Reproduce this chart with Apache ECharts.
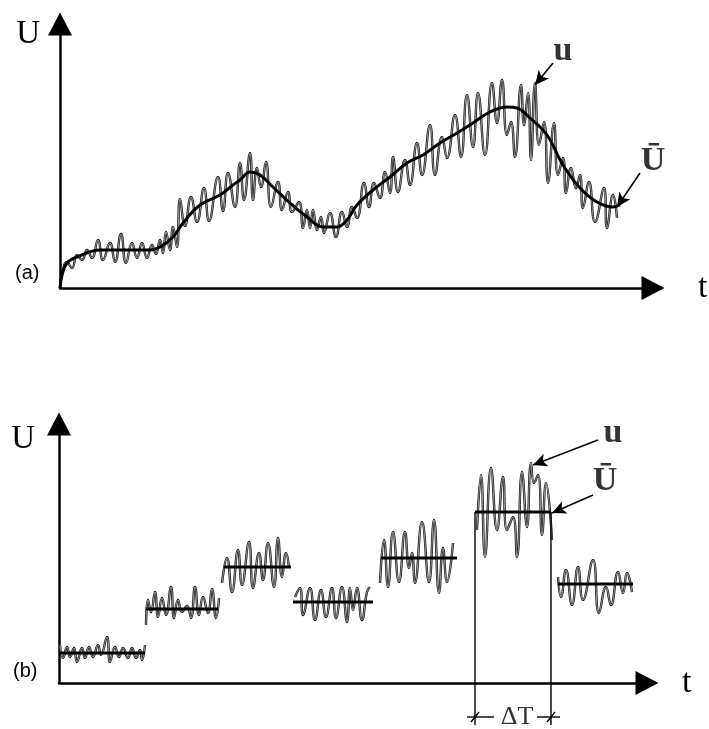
<!DOCTYPE html>
<html>
<head>
<meta charset="utf-8">
<script src="https://cdn.jsdelivr.net/npm/echarts@6/dist/echarts.min.js"></script>
<style>
  html, body { margin: 0; padding: 0; background: #fff; }
  #chart { width: 709px; height: 729px; }
</style>
</head>
<body>
<div id="chart"></div>
<script>
// (a) running mean U and instantaneous u, [t, U]
const meanA = [[0, 0], [2, 13], [7, 25], [17, 31], [40, 38], [90, 38], [100, 41], [113, 51], [123, 65],
  [140, 83], [160, 93], [173, 103], [180, 108], [190, 116], [200, 113], [213, 101], [230, 85], [247, 71],
  [263, 61], [277, 61], [287, 68], [297, 83], [313, 98], [330, 111], [347, 125], [363, 133], [380, 145],
  [397, 155], [413, 165], [430, 176], [447, 181], [457, 180], [470, 170], [487, 153], [503, 123],
  [520, 100], [537, 86], [553, 81], [560, 83]]

const uA = [[0, 0], [2, 13], [7, 26], [12, 20], [17, 33], [22, 28], [27, 38], [32, 30], [38, 48], [43, 28],
  [50, 45], [55, 26], [61, 54], [66, 25], [72, 45], [77, 30], [82, 45], [87, 30], [92, 43], [96, 34],
  [100, 48], [103, 35], [106, 56], [110, 38], [113, 61], [117, 41], [120, 89], [125, 62], [131, 91],
  [137, 66], [144, 100], [149, 67], [158, 111], [163, 77], [168, 115], [175, 81], [180, 125], [184, 88],
  [190, 135], [193, 88], [197, 120], [201, 101], [206, 126], [211, 81], [218, 106], [222, 78], [228, 96],
  [232, 76], [239, 86], [243, 60], [247, 78], [250, 60], [253, 78], [257, 58], [261, 71], [264, 55],
  [270, 75], [276, 51], [282, 76], [287, 61], [292, 81], [297, 70], [304, 105], [309, 81], [314, 105],
  [320, 90], [325, 116], [330, 95], [333, 131], [338, 96], [345, 128], [350, 103], [357, 145], [362, 113],
  [370, 163], [375, 113], [382, 151], [387, 130], [395, 173], [401, 131], [407, 193], [413, 141],
  [418, 195], [425, 133], [432, 205], [437, 165], [442, 208], [447, 153], [451, 166], [455, 131],
  [461, 203], [464, 163], [468, 195], [471, 128], [475, 205], [479, 143], [484, 166], [488, 105],
  [494, 165], [498, 113], [503, 130], [506, 95], [511, 120], [516, 100], [520, 113], [523, 80],
  [529, 106], [535, 66], [544, 100], [547, 60], [553, 93], [557, 70]]

// (b) block averages: [start t, end t, level]
const blocksB = [[0, 86, 30], [87, 159, 74], [165, 232, 116], [234, 314, 81], [322, 398, 125],
  [416, 492, 171], [499, 574, 99]]

// (b) u inside each block
const uB = [
  [[1, 38], [4, 25], [8, 36], [11, 26], [15, 35], [18, 21], [23, 35], [26, 25], [30, 36], [34, 26], [39, 38],
    [42, 28], [48, 46], [51, 21], [56, 36], [60, 26], [64, 35], [69, 25], [73, 35], [77, 25], [81, 33],
    [83, 23], [86, 38]],
  [[87, 58], [89, 83], [92, 71], [96, 91], [99, 66], [103, 85], [107, 68], [112, 96], [115, 65], [119, 83],
    [123, 71], [128, 77], [132, 65], [136, 96], [140, 68], [144, 86], [149, 70], [153, 94], [157, 65],
    [160, 85]],
  [[163, 100], [168, 125], [173, 91], [179, 133], [183, 98], [190, 141], [194, 95], [200, 130], [204, 103],
    [209, 140], [215, 96], [219, 145], [223, 106], [227, 130], [230, 116]],
  [[236, 86], [241, 95], [244, 68], [251, 95], [256, 63], [262, 93], [267, 66], [273, 95], [277, 65],
    [283, 96], [288, 61], [291, 95], [294, 73], [298, 95], [303, 63], [308, 91], [311, 96]],
  [[321, 100], [325, 143], [329, 96], [334, 151], [340, 101], [346, 151], [350, 115], [353, 130],
    [356, 100], [363, 161], [370, 101], [375, 163], [380, 90], [384, 135], [388, 101], [394, 140]],
  [[418, 153], [422, 208], [426, 126], [432, 215], [438, 153], [444, 206], [448, 153], [454, 166],
    [458, 126], [463, 211], [468, 156], [472, 220], [475, 200], [479, 208], [483, 148], [487, 200],
    [493, 143]],
  [[499, 106], [502, 86], [507, 113], [513, 78], [519, 116], [524, 83], [534, 123], [540, 70], [547, 96],
    [552, 78], [559, 111], [564, 90], [568, 110], [573, 91]]
]

// the averaging window ΔT (block 6) and where its dimension line sits
const deltaT = [416, 492]
const dimLevel = -34

const serif = 'Liberation Serif, Times New Roman, serif'
const myChart = echarts.init(document.getElementById('chart'))

function axisPair(idx, xmax, ymax) {
  const line = {
    show: true,
    symbol: ['none', 'triangle'],
    symbolSize: [24, 23],
    lineStyle: { color: '#000', width: 2.5 }
  }
  return {
    x: {
      type: 'value', gridIndex: idx, min: 0, max: xmax,
      axisLine: line, axisTick: { show: false }, axisLabel: { show: false }, splitLine: { show: false },
      name: 't', nameLocation: 'end', nameGap: idx === 0 ? 45 : 35,
      nameTextStyle: { fontFamily: serif, fontSize: 34, color: '#000', verticalAlign: 'middle', padding: [idx === 0 ? 0 : 12, 0, 0, 0] }
    },
    y: {
      type: 'value', gridIndex: idx, min: 0, max: ymax,
      axisLine: line, axisTick: { show: false }, axisLabel: { show: false }, splitLine: { show: false },
      name: 'U', nameLocation: 'end', nameGap: idx === 0 ? -10 : -15,
      nameTextStyle: { fontFamily: serif, fontSize: 33, color: '#000', align: 'right', verticalAlign: 'middle', padding: [0, idx === 0 ? 20 : 24, 0, 0] }
    }
  }
}

const axA = axisPair(0, 593, 264)
const axB = axisPair(1, 588, 259)

// u is drawn as a hollow trace: dark outline with a pale core
function uSeries(data, idx) {
  return [
    { type: 'line', xAxisIndex: idx, yAxisIndex: idx, data: data, smooth: 0.5, showSymbol: false, symbol: 'none',
      lineStyle: { color: '#1a1a1a', width: 2.4 }, silent: true, z: 2 },
    { type: 'line', xAxisIndex: idx, yAxisIndex: idx, data: data, smooth: 0.5, showSymbol: false, symbol: 'none',
      lineStyle: { color: '#b4b4b4', width: 0.8 }, silent: true, z: 3 }
  ]
}

function arrow(from, to) {
  return [{ coord: from }, { coord: to }]
}

const arrowStyle = {
  silent: true, symbol: ['none', 'arrow'], symbolSize: [10, 14],
  lineStyle: { color: '#000', width: 1.6, type: 'solid' }, label: { show: false }, emphasis: { disabled: true }
}

function textSeries(idx, items, size) {
  return {
    type: 'scatter', xAxisIndex: idx, yAxisIndex: idx, symbolSize: 0, clip: false, silent: true, z: 6,
    data: items,
    label: { show: true, position: 'inside', formatter: '{b}', fontFamily: serif, fontWeight: 'bold', fontSize: size, color: '#000' }
  }
}

const series = []
series.push(...uSeries(uA, 0))
series.push({
  type: 'line', xAxisIndex: 0, yAxisIndex: 0, data: meanA, smooth: 0.4, showSymbol: false, symbol: 'none',
  lineStyle: { color: '#000', width: 3 }, silent: true, z: 4,
  markLine: Object.assign({ data: [arrow([493, 225], [475, 203]), arrow([580, 115], [557, 81])] }, arrowStyle)
})
series.push(textSeries(0, [{ name: 'u', value: [503, 237] }, { name: 'Ū', value: [593, 127] }], 34))

uB.forEach(function (blk) { series.push(...uSeries(blk, 1)) })
blocksB.forEach(function (b, i) {
  const s = {
    type: 'line', xAxisIndex: 1, yAxisIndex: 1, data: [[b[0], b[2]], [b[1], b[2]]], showSymbol: false, symbol: 'none',
    lineStyle: { color: '#000', width: 3 }, silent: true, z: 4
  }
  if (i === 5) {
    s.markLine = Object.assign({ data: [arrow([539, 243], [474, 218]), arrow([534, 188], [493, 170])] }, arrowStyle)
  }
  series.push(s)
})

// ΔT window: two verticals down past the axis, dimension line with slashes
const dimParts = [
  [[deltaT[0], 171], [deltaT[0], -42]],
  [[deltaT[1], 171], [deltaT[1], -42]],
  [[deltaT[0] - 8, dimLevel], [deltaT[0] + 19, dimLevel]],
  [[deltaT[1] - 14, dimLevel], [deltaT[1] + 9, dimLevel]],
  [[deltaT[0] - 4, dimLevel - 5], [deltaT[0] + 4, dimLevel + 5]],
  [[deltaT[1] - 4, dimLevel - 5], [deltaT[1] + 4, dimLevel + 5]]
]
dimParts.forEach(function (p) {
  series.push({
    type: 'line', xAxisIndex: 1, yAxisIndex: 1, data: p, clip: false, showSymbol: false, symbol: 'none',
    lineStyle: { color: '#000', width: 1.4 }, silent: true, z: 5
  })
})
series.push(textSeries(1, [{ name: 'u', value: [554, 250] }, { name: 'Ū', value: [546, 202] }], 34))
series.push({
  type: 'scatter', xAxisIndex: 1, yAxisIndex: 1, symbolSize: 0, clip: false, silent: true, z: 6,
  data: [{ name: 'ΔT', value: [(deltaT[0] + deltaT[1]) / 2 + 4, dimLevel] }],
  label: { show: true, position: 'inside', formatter: '{b}', fontFamily: serif, fontSize: 26, color: '#000' }
})

myChart.setOption({
  animation: false,
  backgroundColor: '#fff',
  grid: [
    { left: 60, top: 24, width: 593, height: 264 },
    { left: 59, top: 424, width: 588, height: 259 }
  ],
  xAxis: [axA.x, axB.x],
  yAxis: [axA.y, axB.y],
  graphic: [
    { type: 'text', left: 15, top: 263, style: { text: '(a)', font: '20px "Liberation Sans", Arial, sans-serif', fill: '#000' } },
    { type: 'text', left: 13, top: 661, style: { text: '(b)', font: '20px "Liberation Sans", Arial, sans-serif', fill: '#000' } }
  ],
  series: series
})
</script>
</body>
</html>
